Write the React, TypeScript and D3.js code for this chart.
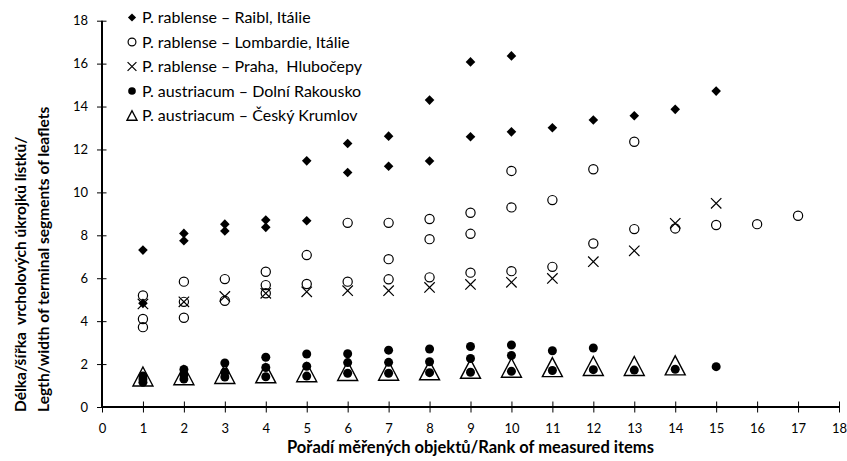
import React from "react";
import * as d3 from "d3";

// [rank, ratio]
const raibl: [number, number][] = [
    [1, 7.31], [1, 4.83], [2, 8.09], [2, 7.75], [3, 8.52], [3, 8.2], [4, 8.71], [4, 8.37],
    [5, 8.68], [5, 11.47], [6, 12.28], [6, 10.93], [7, 12.62], [7, 11.22], [8, 14.3], [8, 11.46],
    [9, 16.08], [9, 12.59], [10, 16.36], [10, 12.82], [11, 13.01], [12, 13.37], [13, 13.57],
    [14, 13.87], [15, 14.72],
];
const lombardie: [number, number][] = [
    [1, 5.2], [1, 4.1], [1, 3.72], [2, 5.84], [2, 4.9], [2, 4.16], [3, 5.96], [3, 4.95],
    [4, 6.3], [4, 5.68], [4, 5.3], [5, 7.08], [5, 5.73], [6, 8.58], [6, 5.84], [7, 8.58],
    [7, 6.89], [7, 5.95], [8, 8.76], [8, 7.82], [8, 6.04], [9, 9.05], [9, 8.07], [9, 6.26],
    [10, 11.0], [10, 9.3], [10, 6.33], [11, 9.64], [11, 6.53], [12, 11.08], [12, 7.62],
    [13, 12.36], [13, 8.29], [14, 8.32], [15, 8.48], [16, 8.52], [17, 8.91],
];
const praha: [number, number][] = [
    [1, 4.8], [2, 4.9], [3, 5.15], [4, 5.3], [5, 5.37], [6, 5.42], [7, 5.42], [8, 5.57],
    [9, 5.71], [10, 5.81], [11, 5.99], [12, 6.77], [13, 7.28], [14, 8.56], [15, 9.49],
];
const dolni: [number, number][] = [
    [1, 1.45], [1, 1.3], [1, 1.15], [2, 1.75], [2, 1.5], [2, 1.3], [3, 2.05], [3, 1.62],
    [3, 1.4], [4, 2.32], [4, 1.84], [4, 1.41], [5, 2.47], [5, 1.9], [5, 1.44], [6, 2.48],
    [6, 2.07], [6, 1.57], [7, 2.65], [7, 2.08], [7, 1.57], [8, 2.7], [8, 2.11], [8, 1.6],
    [9, 2.82], [9, 2.26], [9, 1.62], [10, 2.89], [10, 2.4], [10, 1.66], [11, 2.62], [11, 1.7],
    [12, 2.75], [12, 1.74], [13, 1.72], [14, 1.76], [15, 1.88],
];
const krumlov: [number, number][] = [
    [1, 1.42], [2, 1.48], [3, 1.54], [4, 1.57], [5, 1.62], [6, 1.68], [7, 1.69], [8, 1.71],
    [9, 1.78], [10, 1.83], [11, 1.86], [12, 1.91], [13, 1.91], [14, 1.94],
];

const legendLabels = [
    "P. rablense – Raibl, Itálie",
    "P. rablense – Lombardie, Itálie",
    "P. rablense – Praha,  Hlubočepy",
    "P. austriacum – Dolní Rakousko",
    "P. austriacum – Český Krumlov",
];
const xTitle = "Pořadí měřených objektů/Rank of measured items";
const yTitle1 = "Délka/šířka  vrcholových úkrojků lístků/";
const yTitle2 = "Legth/width of terminal segments of leaflets";

const font = "Lato, 'Open Sans', sans-serif";

function Marker({ kind, x, y, s = 1 }: { kind: number; x: number; y: number; s?: number }) {
    if (kind === 0) {
        const r = 4.8 * s;
        return <path d={`M${x},${y - r}L${x + r},${y}L${x},${y + r}L${x - r},${y}Z`} fill="#000" />;
    }
    if (kind === 1) return <circle cx={x} cy={y} r={4.6 * s} fill="none" stroke="#000" strokeWidth={1.2} />;
    if (kind === 2) {
        const r = 5.2 * s;
        return (
            <path d={`M${x - r},${y - r}L${x + r},${y + r}M${x - r},${y + r}L${x + r},${y - r}`}
                stroke="#000" strokeWidth={1.2} fill="none" />
        );
    }
    if (kind === 3) return <circle cx={x} cy={y} r={4.5 * s} fill="#000" />;
    const w = 10 * s, h = 9.5 * s;
    return (
        <path d={`M${x},${y - h}L${x + w},${y + h}L${x - w},${y + h}Z`}
            fill="none" stroke="#000" strokeWidth={1.4} strokeLinejoin="miter" />
    );
}

export default function App() {
    const width = 847;
    const height = 461;
    const xRef = React.useRef<SVGGElement>(null);
    const yRef = React.useRef<SVGGElement>(null);

    const x = d3.scaleLinear().domain([0, 18]).range([102, 839]);
    const y = d3.scaleLinear().domain([0, 18]).range([407, 20.7]);

    React.useEffect(() => {
        const gx = d3.select(xRef.current!);
        gx.call(d3.axisBottom(x).ticks(18).tickSize(5).tickPadding(12).tickSizeOuter(0));
        gx.select(".domain").attr("stroke-width", 2).attr("d", `M102,0H839`);
        gx.selectAll(".tick line").attr("y1", -5.5).attr("y2", 5.5);
        gx.selectAll(".tick text").attr("font-family", font).attr("font-size", 13).attr("fill", "#000");

        const gy = d3.select(yRef.current!);
        gy.call(d3.axisLeft(y).ticks(9).tickSize(5).tickPadding(9).tickSizeOuter(0));
        gy.select(".domain").attr("stroke-width", 2).attr("d", `M0,${y(0)}V${y(18)}`);
        gy.selectAll(".tick line").attr("x1", -5).attr("x2", 4.5);
        gy.selectAll(".tick text").attr("font-family", font).attr("font-size", 13).attr("fill", "#000");
    }, []);

    const series = [raibl, lombardie, praha, dolni, krumlov];

    return (
        <svg width={width} height={height} style={{ position: "absolute", left: 0, top: 0, background: "#fff" }}>
            {series.map((data, k) => (
                <g key={k}>
                    {data.map(([r, v], i) => (
                        <Marker key={i} kind={k} x={x(r)} y={y(v)} />
                    ))}
                </g>
            ))}
            <g ref={xRef} transform={`translate(0,${y(0)})`} />
            <g ref={yRef} transform={`translate(${x(0)},0)`} />
            <g fontFamily={font} fontSize={16}>
                {legendLabels.map((t, i) => (
                    <g key={i}>
                        <Marker kind={i} x={132} y={17.5 + i * 24.5} s={i === 4 ? 0.5 : 0.85} />
                        <text x={142} y={17.5 + i * 24.5} dy="0.35em" xmlSpace="preserve"
                            style={{ whiteSpace: "pre" }}>{t}</text>
                    </g>
                ))}
            </g>
            <text x={(x(0) + x(18)) / 2} y={453} textAnchor="middle" fontFamily={font}
                fontWeight="bold" fontSize={16.5}>{xTitle}</text>
            <g fontFamily={font} fontWeight="bold" fontSize={15.5}>
                <text transform="translate(26,412) rotate(-90)" xmlSpace="preserve"
                    style={{ whiteSpace: "pre" }}>{yTitle1}</text>
                <text transform="translate(49,412) rotate(-90)">{yTitle2}</text>
            </g>
        </svg>
    );
}
